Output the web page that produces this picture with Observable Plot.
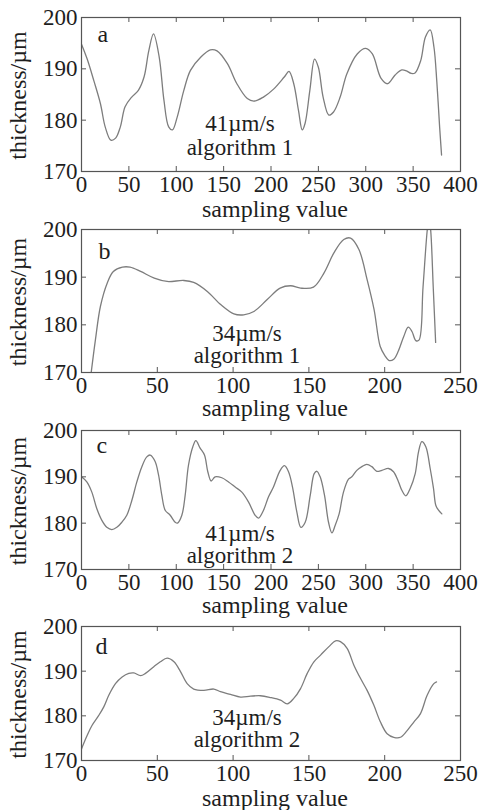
<!DOCTYPE html>
<html>
<head>
<meta charset="utf-8">
<script src="https://cdn.jsdelivr.net/npm/d3@7"></script>
<script src="https://cdn.jsdelivr.net/npm/@observablehq/plot@0.6"></script>
<style>
  body { margin: 0; background: #fff; }
  #chart { width: 478px; position: relative; }
  #chart svg { display: block; background: transparent !important; overflow: visible; }
  #chart svg, #chart svg text { font-family: "Liberation Serif", "Times New Roman", Times, serif !important; }
</style>
</head>
<body>
<div id="chart"></div>
<script>
// ---- data ----
const aSampling  = [0,6,13,20,25,31,36,41,46,53,60,66,71,76,82,87,92,96,101,108,115,126,136,143,154,164,175,182,192,203,214,219,224,229,233,236,241,246,250,255,261,266,273,280,291,300,307,316,323,331,338,343,348,352,358,363,368,372,375,378,380];
const aThickness = [194.8,191.9,187.7,183.2,178.7,176.1,176.5,178.7,182.6,184.5,185.8,188.4,193.5,196.8,192.3,183.9,178.7,178.1,180.6,185.8,189.7,192.3,193.7,193.5,191,187.1,184.2,183.7,184.5,186.1,188.4,189.5,187.1,181.9,178.1,179.4,185.8,191.9,190.3,184.5,181,181.6,184.5,189,192.9,194,192.9,188.2,187.1,188.8,189.8,189.6,189.1,189.2,191.6,196.2,197.6,194.2,187.5,178.6,173.2];

const bSampling  = [6.4,9.2,12.5,17,21,27,32,39,48,56.5,67.5,74,83,92,100.5,107,113.7,122.5,131,138,144.5,153,160,166.5,173,177.5,183,188.4,193,197,200,203,206,209,212.5,215.5,218,220.5,222.6,225.3,228.1,229.2,230.3,232,233.6];
const bThickness = [170,176.9,183.9,188.8,191.2,192.1,192.1,191.2,189.8,189.1,189.3,188.9,187,184.2,182.3,182.1,182.8,185.3,187.7,188.2,187.7,187.9,190.9,195.1,197.9,198.2,195.8,189.5,183.2,175.5,173.6,172.5,172.8,174.5,177.5,179.5,178.6,176.7,176.8,188,200,202.5,200,188,176.3];

const cSampling  = [0,5.6,10.9,16.2,21.5,26.7,32,37.3,42.6,47.8,53.1,58.4,63.7,68.9,72.5,77.7,81.3,84.8,88.3,93.6,98.9,101.3,105.9,109.4,112.9,117.5,120.7,125.2,129.8,133.3,136.8,141,148.1,155.2,162.2,169.2,176.2,183.3,186.8,192.1,197.4,202.6,209.7,214.2,218.5,222.7,227.3,231.5,236.1,241.4,245.6,248.4,251.9,256.5,260.7,264.3,267.7,271.9,276.5,281.8,285.3,290.6,295.9,301.1,306.4,311.7,317,324,329.3,334.6,338.1,342.3,346.9,352.2,355.7,359.2,363.4,368,371.5,374,376.8,380.3];
const cThickness = [190,188.9,186.7,183.1,180.6,179.1,178.6,179.1,180.2,181.7,184.9,188.9,192.2,194.3,194.7,193.3,190.4,186,182.8,181.7,180.2,180,181.7,186,192.5,196.5,197.8,196.2,194.7,191.1,189.1,190,189.8,188.9,187.8,186.7,184.6,181.7,181.1,182.8,185.7,187.8,191.4,192.4,191.1,187.8,182.4,179.1,180.2,186,190.7,191.2,190,186,180.2,177.9,179.5,182,186.7,189.5,190,191.4,192.2,192.7,192.2,191.2,191.4,191.8,191.1,188.9,187.1,185.9,187.5,190.7,195.4,197.6,196.5,191.8,187.5,183.8,182.8,182];

const dSampling  = [0,3.7,7,11.4,14.7,18,22.4,26.8,31.2,34.5,39,42.2,47.7,52,56.5,61,65.3,69.7,74,80.7,87.3,91.7,98.3,104.9,111.5,118,124.7,131.3,135.7,140,144.5,148.9,153.3,157.7,163.2,167.6,170.8,175.2,179.6,184,188.4,192.8,197.2,201.6,206,210.4,214.8,219.2,223.6,228,232.4,234.2];
const dThickness = [172.6,175.6,177.9,180.1,182,184.6,187.2,188.7,189.5,189.6,189,189.5,191,192.1,192.9,192.1,189.9,187.2,186,185.7,186,185.4,184.8,184.2,184.4,184.5,184.1,183.5,182.7,183.9,186.1,189.5,192.1,193.6,195.5,196.8,196.6,195.1,191.4,188.4,185.7,182.4,178.6,176,175.2,175.2,176.7,178.6,180.5,184.6,187.2,187.6];

const yTicks    = [170, 180, 190, 200];
const xTicks400 = [0, 50, 100, 150, 200, 250, 300, 350, 400];
const xTicks250 = [0, 50, 100, 150, 200, 250];
const xLabel = "sampling value";
const yLabel = "thickness/µm";
const panelLetters = ["a", "b", "c", "d"];
const speedLabels = ["41µm/s", "34µm/s", "41µm/s", "34µm/s"];
const algorithmLabels = ["algorithm 1", "algorithm 1", "algorithm 2", "algorithm 2"];

// ---- layout (positions/sizes only) ----
const W = 478, ML = 81, MR = 18, PAD = 16; // PAD: extra top room, overlapped with previous panel via negative CSS margin
const layouts = [
  {height: 225, mt: 17, mb: 54, pad: 0,   letterDx: 16, letterDy: 7,  annDx: -31, speedDy: -48, algoDy: -24, xlabDy: 38},
  {height: 200, mt: 4,  mb: 53, pad: PAD, letterDx: 17, letterDy: 12, annDx: -24, speedDy: -39, algoDy: -17, xlabDy: 36},
  {height: 196, mt: 5,  mb: 52, pad: PAD, letterDx: 15, letterDy: 5,  annDx: -31, speedDy: -36, algoDy: -14, xlabDy: 36},
  {height: 189, mt: 5,  mb: 50, pad: PAD, letterDx: 14, letterDy: 10, annDx: -24, speedDy: -43, algoDy: -21, xlabDy: 38}
];
const FONT = "'Liberation Serif', 'Times New Roman', Times, serif";
const LINE = "#7d7d7d", AXIS = "#555", TEXT = "#1e1e1e";

function panel(i, xs, ys, xDomain, xTicks) {
  const L = layouts[i];
  const innerH = L.height - L.mt - L.mb;
  const innerW = W - ML - MR;
  const data = xs.map((x, k) => ({x, y: ys[k]}));
  const svg = Plot.plot({
    width: W, height: L.height + L.pad,
    marginLeft: ML, marginRight: MR, marginTop: L.mt + L.pad, marginBottom: L.mb,
    style: {fontFamily: FONT, fontSize: "23px", color: TEXT, background: "transparent"},
    x: {domain: xDomain, ticks: xTicks, tickSize: 0, tickPadding: 4, label: null},
    y: {domain: [170, 200], ticks: yTicks, tickSize: 0, tickPadding: 4, label: null},
    marks: [
      Plot.line(data, {x: "x", y: "y", stroke: LINE, strokeWidth: 1.3, curve: "catmull-rom", clip: true}),
      Plot.tickX(xTicks, {x: d => d, insetTop: innerH - 5, stroke: AXIS}),
      Plot.tickX(xTicks, {x: d => d, insetBottom: innerH - 5, stroke: AXIS}),
      Plot.tickY(yTicks, {y: d => d, insetRight: innerW - 5, stroke: AXIS}),
      Plot.tickY(yTicks, {y: d => d, insetLeft: innerW - 5, stroke: AXIS}),
      Plot.frame({stroke: AXIS, strokeWidth: 1.2}),
      Plot.text([panelLetters[i]], {text: d => d, frameAnchor: "top-left", textAnchor: "start", lineAnchor: "top",
        dx: L.letterDx, dy: L.letterDy, fontSize: 24, fill: TEXT}),
      Plot.text([speedLabels[i]], {text: d => d, frameAnchor: "bottom", lineAnchor: "middle",
        dx: L.annDx, dy: L.speedDy, fontSize: 23, fill: TEXT}),
      Plot.text([algorithmLabels[i]], {text: d => d, frameAnchor: "bottom", lineAnchor: "middle",
        dx: L.annDx, dy: L.algoDy, fontSize: 23, fill: TEXT}),
      Plot.text([xLabel], {text: d => d, frameAnchor: "bottom", lineAnchor: "middle",
        dx: 4, dy: L.xlabDy, fontSize: 24, fill: TEXT}),
      Plot.text([yLabel], {text: d => d, frameAnchor: "left", rotate: -90, textAnchor: "middle", lineAnchor: "middle",
        dx: -63, dy: 1, fontSize: 24, fill: TEXT})
    ]
  });
  svg.style.marginTop = (-L.pad) + "px";
  return svg;
}

const chart = document.getElementById("chart");
chart.append(panel(0, aSampling, aThickness, [0, 400], xTicks400));
chart.append(panel(1, bSampling, bThickness, [0, 250], xTicks250));
chart.append(panel(2, cSampling, cThickness, [0, 400], xTicks400));
chart.append(panel(3, dSampling, dThickness, [0, 250], xTicks250));
</script>
</body>
</html>
